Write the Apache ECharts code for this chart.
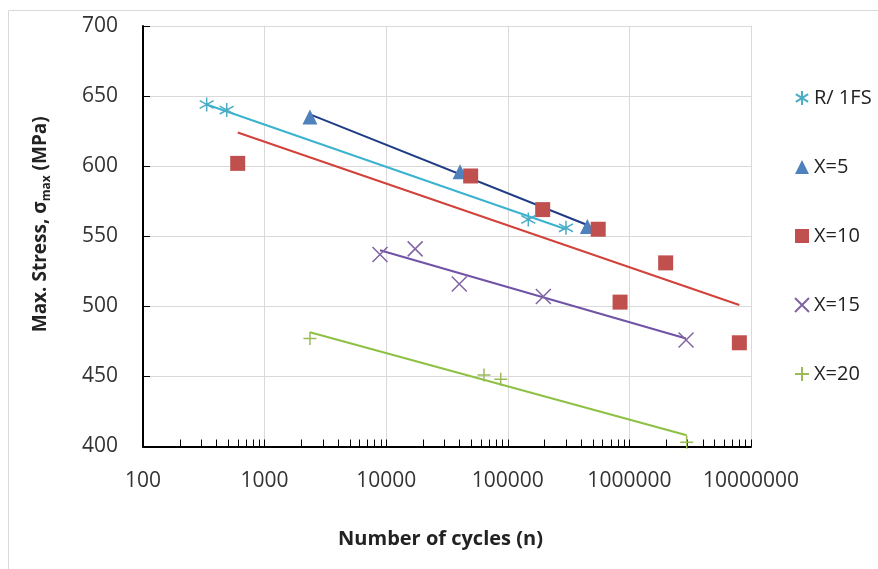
<!DOCTYPE html>
<html>
<head>
<meta charset="utf-8">
<script src="https://cdn.jsdelivr.net/npm/echarts@6/dist/echarts.min.js"></script>
<style>
html,body{margin:0;padding:0;background:#fff;}
#c{width:878px;height:569px;}
</style>
</head>
<body>
<div id="c"></div>
<script>
// ---- data ----
const seriesNames = ['R/ 1FS', 'X=5', 'X=10', 'X=15', 'X=20'];

const r1fsN = [334, 488, 147500, 301000];
const r1fsS = [644, 640, 562, 556];
const x5N = [2360, 40500, 451000];
const x5S = [635, 596, 557];
const x10N = [601, 49500, 193600, 554000, 838000, 1987000, 8020000];
const x10S = [602, 593, 569, 555, 503, 531, 474];
const x15N = [8890, 17300, 39900, 196000, 2924000];
const x15S = [537, 541, 516, 507, 476];
const x20N = [2360, 63700, 87500, 2958000];
const x20S = [477, 451, 448, 403];

// trendline end points
const trR1fsN = [334, 301000];   const trR1fsS = [644, 555];
const trX5N = [2360, 451000];    const trX5S = [637, 558];
const trX10N = [601, 8020000];   const trX10S = [624, 501];
const trX15N = [8890, 2924000];  const trX15S = [540, 477];
const trX20N = [2360, 2958000];  const trX20S = [481.5, 408];

const yTicks = [400, 450, 500, 550, 600, 650, 700];
const xTickLabels = ['100', '1000', '10000', '100000', '1000000', '10000000'];
// minor tick positions of the log axis (2..9 in every decade)
const minorDecades = [100, 1000, 10000, 100000, 1000000];
const minorSteps = [2, 3, 4, 5, 6, 7, 8, 9];

// ---- helpers ----
const zip = (a, b) => a.map((v, i) => [v, b[i]]);
const FONT = 'Open Sans';
const ASTER = 'path://M5,0 L5,10 M0.6,2.2 L9.4,7.8 M0.6,7.8 L9.4,2.2';
const CROSS = 'path://M0,0 L10,10 M0,10 L10,0';
const PLUS = 'path://M5,0 L5,10 M0,5 L10,5';

function strokeScatter(name, n, s, sym, color, size) {
  return {
    name, type: 'scatter', data: zip(n, s), symbol: sym, symbolSize: size,
    itemStyle: { color: 'rgba(0,0,0,0)', borderColor: color, borderWidth: 1.5, opacity: 1 },
    z: 3
  };
}
function fillScatter(name, n, s, sym, color, size) {
  return {
    name, type: 'scatter', data: zip(n, s), symbol: sym, symbolSize: size,
    itemStyle: { color: color, opacity: 1 }, z: 3
  };
}
function trend(n, s, color) {
  return {
    type: 'line', data: zip(n, s), showSymbol: false, symbol: 'none', silent: true,
    lineStyle: { color: color, width: 2 }, z: 2, animation: false
  };
}

const minorTickData = [];
minorDecades.forEach(d => minorSteps.forEach(k => minorTickData.push([d * k, yTicks[0]])));

const chart = echarts.init(document.getElementById('c'), null, { renderer: 'canvas' });
chart.setOption({
  animation: false,
  backgroundColor: '#ffffff',
  graphic: [{
    type: 'rect', shape: { x: 8.5, y: 10.5, width: 900, height: 600 },
    style: { fill: 'none', stroke: '#d9d9d9', lineWidth: 1 }, silent: true, z: -1
  }],
  grid: { left: 143, right: 127, top: 26, bottom: 122.5, containLabel: false },
  xAxis: {
    type: 'log', logBase: 10, min: 100, max: 10000000, interval: 1,
    name: 'Number of cycles (n)', nameLocation: 'middle', nameGap: 83,
    nameTextStyle: { fontFamily: FONT, fontSize: 20, fontWeight: 'bold', color: '#222', padding: [0, 13, 0, 0] },
    axisLine: { show: true, onZero: false, lineStyle: { color: '#000', width: 2 } },
    axisTick: { show: true, inside: true, length: 7, lineStyle: { color: '#000', width: 1 } },
    minorTick: { show: false },
    axisLabel: {
      margin: 24, fontFamily: FONT, fontSize: 21, color: '#333',
      formatter: v => { const i = Math.round(Math.log10(v)) - 2; return xTickLabels[i] !== undefined ? xTickLabels[i] : String(v); }
    },
    splitLine: { show: true, lineStyle: { color: '#d9d9d9', width: 1 } }
  },
  yAxis: {
    type: 'value', min: yTicks[0], max: yTicks[yTicks.length - 1], interval: 50,
    name: '{t|Max. Stress, σ}{s|max}{t| (MPa)}', nameLocation: 'middle', nameGap: 90,
    nameTextStyle: {
      padding: [0, 0, 0, 24],
      rich: {
        t: { fontFamily: FONT, fontSize: 19, fontWeight: 'bold', color: '#222', lineHeight: 25 },
        s: { fontFamily: FONT, fontSize: 12, fontWeight: 'bold', color: '#222', verticalAlign: 'bottom', lineHeight: 12 }
      }
    },
    axisLine: { show: true, lineStyle: { color: '#000', width: 2 } },
    axisTick: { show: true, inside: true, length: 7, lineStyle: { color: '#000', width: 1 } },
    axisLabel: { margin: 25, fontFamily: FONT, fontSize: 21, color: '#333' },
    splitLine: { show: true, lineStyle: { color: '#d9d9d9', width: 1 } }
  },
  legend: {
    data: seriesNames, orient: 'vertical', left: 794, top: 87, padding: 0,
    itemWidth: 14, itemHeight: 14, itemGap: 47,
    textStyle: { fontFamily: FONT, fontSize: 20, color: '#222', lineHeight: 22 }
  },
  series: [
    strokeScatter(seriesNames[0], r1fsN, r1fsS, ASTER, '#4BACC6', 14),
    fillScatter(seriesNames[1], x5N, x5S, 'triangle', '#4F81BD', 15),
    fillScatter(seriesNames[2], x10N, x10S, 'rect', '#C0504D', 15),
    strokeScatter(seriesNames[3], x15N, x15S, CROSS, '#8064A2', 15),
    strokeScatter(seriesNames[4], x20N, x20S, PLUS, '#9BBB59', 13),
    trend(trR1fsN, trR1fsS, '#3BB3CF'),
    trend(trX5N, trX5S, '#1F3D85'),
    trend(trX10N, trX10S, '#D2423B'),
    trend(trX15N, trX15S, '#7052A6'),
    trend(trX20N, trX20S, '#8DC043'),
    {
      type: 'custom', data: minorTickData, silent: true, z: 1, clip: false,
      encode: { x: 0, y: 1 },
      renderItem: (params, api) => {
        const p = api.coord([api.value(0), api.value(1)]);
        return {
          type: 'line',
          shape: { x1: Math.round(p[0]) + 0.5, y1: p[1], x2: Math.round(p[0]) + 0.5, y2: p[1] - 7 },
          style: { stroke: '#000', lineWidth: 1 }
        };
      }
    }
  ]
});
</script>
</body>
</html>
